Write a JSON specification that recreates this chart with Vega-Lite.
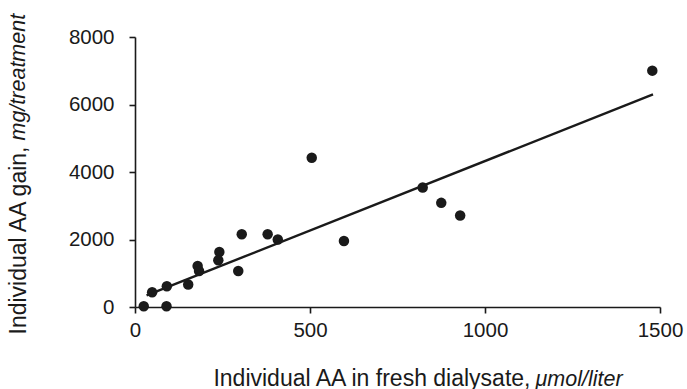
{
  "$schema": "https://vega.github.io/schema/vega-lite/v6.json",
  "autosize": {"type": "none"},
  "width": 525,
  "height": 270,
  "padding": {"left": 135, "top": 37, "right": 27, "bottom": 82},
  "background": "white",
  "config": {
    "view": {"stroke": null},
    "font": "Liberation Sans",
    "axis": {
      "grid": false,
      "domainColor": "#1a1a1a",
      "domainWidth": 1.6,
      "tickColor": "#1a1a1a",
      "tickWidth": 1.6,
      "tickSize": 6,
      "labelFont": "Liberation Sans",
      "labelFontSize": 20.5,
      "labelColor": "#1a1a1a",
      "titleFont": "Liberation Sans",
      "titleFontSize": 23,
      "titleFontWeight": "normal",
      "titleColor": "#1a1a1a"
    }
  },
  "datasets": {
    "pts": [
      {"conc": 25, "gain": 20},
      {"conc": 90, "gain": 20},
      {"conc": 49, "gain": 436},
      {"conc": 91, "gain": 614},
      {"conc": 152, "gain": 665},
      {"conc": 179, "gain": 1217},
      {"conc": 183, "gain": 1068},
      {"conc": 241, "gain": 1632},
      {"conc": 238, "gain": 1386},
      {"conc": 295, "gain": 1068},
      {"conc": 305, "gain": 2157},
      {"conc": 379, "gain": 2157},
      {"conc": 408, "gain": 2000},
      {"conc": 505, "gain": 4421},
      {"conc": 597, "gain": 1958},
      {"conc": 822, "gain": 3543},
      {"conc": 875, "gain": 3086},
      {"conc": 929, "gain": 2712},
      {"conc": 1478, "gain": 7003}
    ],
    "fit": [
      {"conc": 33, "gain": 345},
      {"conc": 1480, "gain": 6300}
    ]
  },
  "layer": [
    {
      "data": {"name": "pts"},
      "mark": {"type": "circle", "size": 110, "color": "#1a1a1a", "opacity": 1},
      "encoding": {
        "x": {
          "field": "conc", "type": "quantitative",
          "scale": {"domain": [0, 1500], "nice": false, "zero": true},
          "axis": {
            "values": [0, 500, 1000, 1500],
            "format": "d",
            "labelPadding": 7,
            "labelFlush": false,
            "title": "Individual AA in fresh dialysate,",
            "titleX": 395, "titleY": 78,
            "titleAnchor": null,
            "titleAlign": "right",
            "titleBaseline": "alphabetic"
          }
        },
        "y": {
          "field": "gain", "type": "quantitative",
          "scale": {"domain": [0, 8000], "nice": false},
          "axis": {
            "values": [0, 2000, 4000, 6000, 8000],
            "format": "d",
            "labelPadding": 15,
            "labelFlush": false,
            "title": "Individual AA gain,",
            "titleX": -117, "titleY": 109,
            "titleAngle": -90,
            "titleAnchor": null,
            "titleAlign": "right",
            "titleBaseline": "middle"
          }
        }
      }
    },
    {
      "data": {"name": "fit"},
      "mark": {"type": "line", "color": "#1a1a1a", "strokeWidth": 2.4},
      "encoding": {
        "x": {
          "field": "conc", "type": "quantitative",
          "axis": {
            "orient": "bottom",
            "domain": false, "ticks": false, "labels": false,
            "title": "μmol/liter",
            "titleFontStyle": "italic",
            "titleFontSize": 21.5,
            "titleX": 400, "titleY": 78,
            "titleAnchor": null,
            "titleAlign": "left",
            "titleBaseline": "alphabetic"
          }
        },
        "y": {
          "field": "gain", "type": "quantitative",
          "axis": {
            "orient": "left",
            "domain": false, "ticks": false, "labels": false,
            "title": "mg/treatment",
            "titleFontStyle": "italic",
            "titleFontSize": 21.5,
            "titleX": -117, "titleY": 103,
            "titleAngle": -90,
            "titleAnchor": null,
            "titleAlign": "left",
            "titleBaseline": "middle"
          }
        }
      }
    }
  ],
  "resolve": {"axis": {"x": "independent", "y": "independent"}}
}
